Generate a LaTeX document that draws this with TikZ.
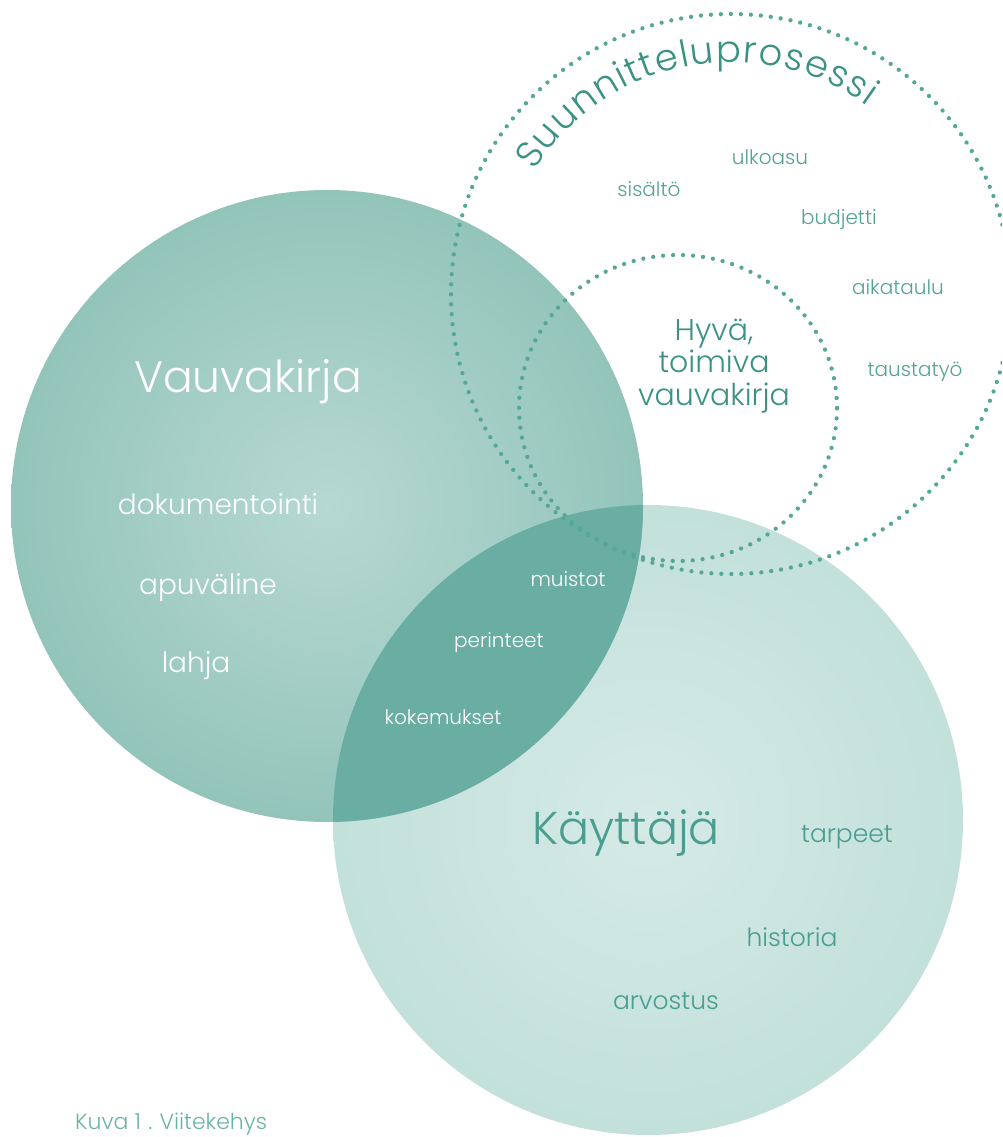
\documentclass[tikz,border=0pt]{standalone}
\usepackage{fontspec}
\setmainfont{Poppins Light}
\usetikzlibrary{decorations.text}
\definecolor{lenscol}{HTML}{6AAEA3}
\definecolor{dotcol}{HTML}{55A797}
\definecolor{darkteal}{HTML}{3A9282}
\definecolor{midteal}{HTML}{4A9D8F}
\definecolor{lightteal}{HTML}{52A395}
\definecolor{captcol}{HTML}{6AB3A7}
\definecolor{va}{HTML}{B6D9D2}
\definecolor{vb}{HTML}{A6CFC7}
\definecolor{vc}{HTML}{93C4BA}
\definecolor{vd}{HTML}{8AC0B5}
\definecolor{ve}{HTML}{82BBB0}
\definecolor{ka}{HTML}{D5EAE7}
\definecolor{kb}{HTML}{C6E2DD}
\definecolor{kc}{HTML}{BCDDD7}
\definecolor{kd}{HTML}{B5D8D2}
\pgfdeclareradialshading{vshade}{\pgfpoint{0bp}{0bp}}{color(0bp)=(va); color(12bp)=(vb); color(25bp)=(vc); color(36bp)=(vd); color(50bp)=(ve)}
\pgfdeclareradialshading{kshade}{\pgfpoint{0bp}{0bp}}{color(0bp)=(ka); color(20bp)=(kb); color(35bp)=(kc); color(50bp)=(kd)}
\tikzset{
  dotline/.style={draw=dotcol, line width=4.3pt, line cap=round, dash pattern=on 0pt off 10pt},
  lbl/.style={inner sep=0pt, anchor=base},
  whitebig/.style={lbl, text=white, font=\fontsize{44}{44}\selectfont},
  whitemid/.style={lbl, text=white, font=\fontsize{28}{28}\selectfont},
  whitesmall/.style={lbl, text=white, font=\fontsize{20}{20}\selectfont},
  userbig/.style={lbl, text=midteal, font=\fontsize{46}{46}\selectfont},
  usermid/.style={lbl, text=midteal, font=\fontsize{25}{25}\selectfont},
  planlbl/.style={lbl, text=lightteal, font=\fontsize{20}{20}\selectfont},
}
\begin{document}
\begin{tikzpicture}[x=1pt,y=1pt]
\useasboundingbox (0,0) rectangle (1002,1137);
\clip (0,0) rectangle (1002,1137);
% centres
\coordinate (vcen) at (327,631);
\coordinate (kcen) at (648,317);
\coordinate (bcen) at (731,843);
\coordinate (scen) at (678,729);
% filled circles
\shade[shading=kshade] (kcen) circle[radius=315];
\shade[shading=vshade] (vcen) circle[radius=316];
\begin{scope}
  \clip (vcen) circle[radius=316];
  \fill[lenscol] (kcen) circle[radius=315];
\end{scope}
% dotted circles
\draw[dotline] (bcen) circle[radius=280];
\draw[dotline] (scen) ellipse[x radius=159, y radius=153];
% curved title
\path[decorate, decoration={text along path,
  text={|\color{darkteal}\fontsize{37}{37}\selectfont|Suunnitteluprosessi},
  text align={fit to path}}]
  (bcen) ++(148:232) arc[start angle=148, end angle=54, radius=232];
% Vauvakirja
\node[whitebig] (vauva) at (248,744) {Vauvakirja};
\node[whitemid] (dok) at (218,622) {dokumentointi};
\node[whitemid] (apu) at (208,542) {apuväline};
\node[whitemid] (lahja) at (196,464) {lahja};
% overlap
\node[whitesmall] (muistot) at (568,550) {muistot};
\node[whitesmall] (perin) at (499,489) {perinteet};
\node[whitesmall] (koke) at (443,412) {kokemukset};
% Kayttaja
\node[userbig] (kaytt) at (626,292) {Käyttäjä};
\node[usermid] (tarp) at (847,294) {tarpeet};
\node[usermid] (hist) at (792,190) {historia};
\node[usermid] (arvo) at (666,127) {arvostus};
% planning
\node[align=center, inner sep=0pt, text=darkteal, font=\fontsize{30}{32.5}\selectfont] (hyva) at (714,771) {Hyvä,\\toimiva\\vauvakirja};
\node[planlbl] (ulko) at (770,972) {ulkoasu};
\node[planlbl] (sis) at (649,940) {sisältö};
\node[planlbl] (budj) at (839,912) {budjetti};
\node[planlbl] (aika) at (898,842) {aikataulu};
\node[planlbl] (taus) at (915,760) {taustatyö};
% caption
\node[inner sep=0pt, anchor=base west, text=captcol, font=\fontsize{22}{22}\selectfont] (kuva) at (75,7) {Kuva 1\,\,.\,\,Viitekehys};
\end{tikzpicture}
\end{document}
